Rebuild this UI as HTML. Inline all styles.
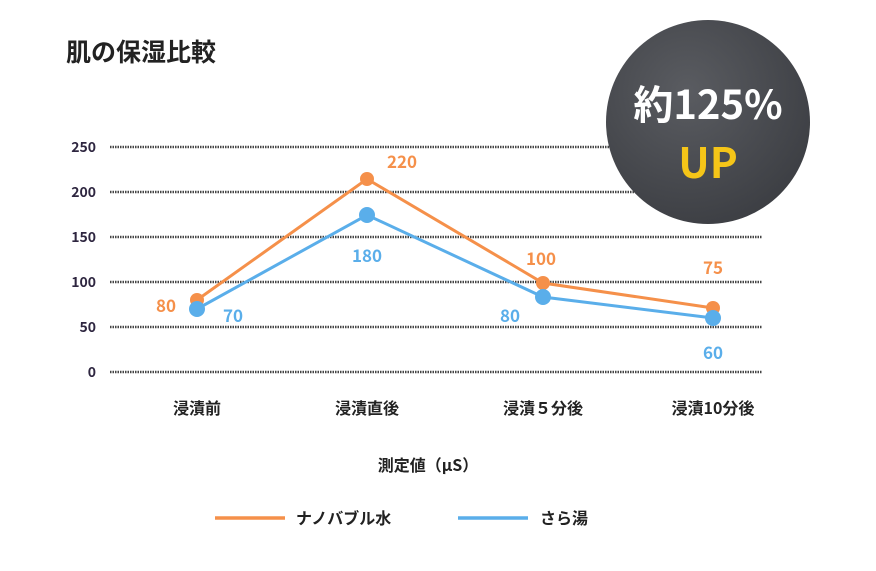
<!DOCTYPE html>
<html><head><meta charset="utf-8"><style>
body{margin:0;background:#fff;}
svg text{font-family:"Noto Sans CJK JP","Liberation Sans",sans-serif;}
</style></head><body>
<svg width="876" height="566" viewBox="0 0 876 566" xmlns="http://www.w3.org/2000/svg">
<defs><radialGradient id="g" cx="0.4" cy="0.35" r="0.7"><stop offset="0" stop-color="#5a5c61"/><stop offset="1" stop-color="#3c3e43"/></radialGradient></defs>
<text x="66" y="61" font-size="25" font-weight="bold" fill="#222">肌の保湿比較</text>
<g stroke="#444" stroke-width="2.5" stroke-dasharray="1.5 1">
<line x1="110" y1="147" x2="762" y2="147"/><line x1="110" y1="192" x2="762" y2="192"/>
<line x1="110" y1="237" x2="762" y2="237"/><line x1="110" y1="282" x2="762" y2="282"/>
<line x1="110" y1="327" x2="762" y2="327"/><line x1="110" y1="372" x2="762" y2="372"/>
</g>
<g font-size="14" font-weight="bold" fill="#2e2640" text-anchor="end">
<text x="96" y="152">250</text><text x="96" y="197">200</text><text x="96" y="242">150</text>
<text x="96" y="287">100</text><text x="96" y="332">50</text><text x="96" y="377">0</text></g>
<circle cx="708" cy="122" r="102" fill="url(#g)"/>
<text x="708" y="119" font-size="40" font-weight="bold" fill="#fff" text-anchor="middle">約125%</text>
<text x="708" y="178" font-size="42" font-weight="bold" fill="#f5c518" text-anchor="middle">UP</text>
<polyline points="197,300 367,179 543,283 713,308" fill="none" stroke="#f5904a" stroke-width="3"/>
<polyline points="197,309 367,215 543,297 713,318" fill="none" stroke="#5aaeea" stroke-width="3"/>
<g fill="#f5904a"><circle cx="197" cy="300" r="7"/><circle cx="367" cy="179" r="7"/><circle cx="543" cy="283" r="7"/><circle cx="713" cy="308" r="7"/></g>
<g fill="#5aaeea"><circle cx="197" cy="309" r="8"/><circle cx="367" cy="215" r="8"/><circle cx="543" cy="297" r="8"/><circle cx="713" cy="318" r="8"/></g>
<g font-size="17" font-weight="bold" fill="#f5904a" text-anchor="middle">
<text x="166" y="312">80</text><text x="402" y="168">220</text><text x="541" y="265">100</text><text x="713" y="274">75</text></g>
<g font-size="17" font-weight="bold" fill="#5aaeea" text-anchor="middle">
<text x="233" y="322">70</text><text x="367" y="262">180</text><text x="510" y="322">80</text><text x="713" y="359">60</text></g>
<g font-size="16" font-weight="bold" fill="#222" text-anchor="middle">
<text x="197" y="414">浸漬前</text><text x="367" y="414">浸漬直後</text><text x="543" y="414">浸漬５分後</text><text x="713" y="414">浸漬10分後</text>
<text x="428" y="471">測定値（μS）</text></g>
<line x1="215" y1="518" x2="285" y2="518" stroke="#f5904a" stroke-width="3.5"/>
<text x="296" y="524" font-size="16" font-weight="bold" fill="#222">ナノバブル水</text>
<line x1="458" y1="518" x2="528" y2="518" stroke="#5aaeea" stroke-width="3.5"/>
<text x="540" y="524" font-size="16" font-weight="bold" fill="#222">さら湯</text>
</svg>
</body></html>
